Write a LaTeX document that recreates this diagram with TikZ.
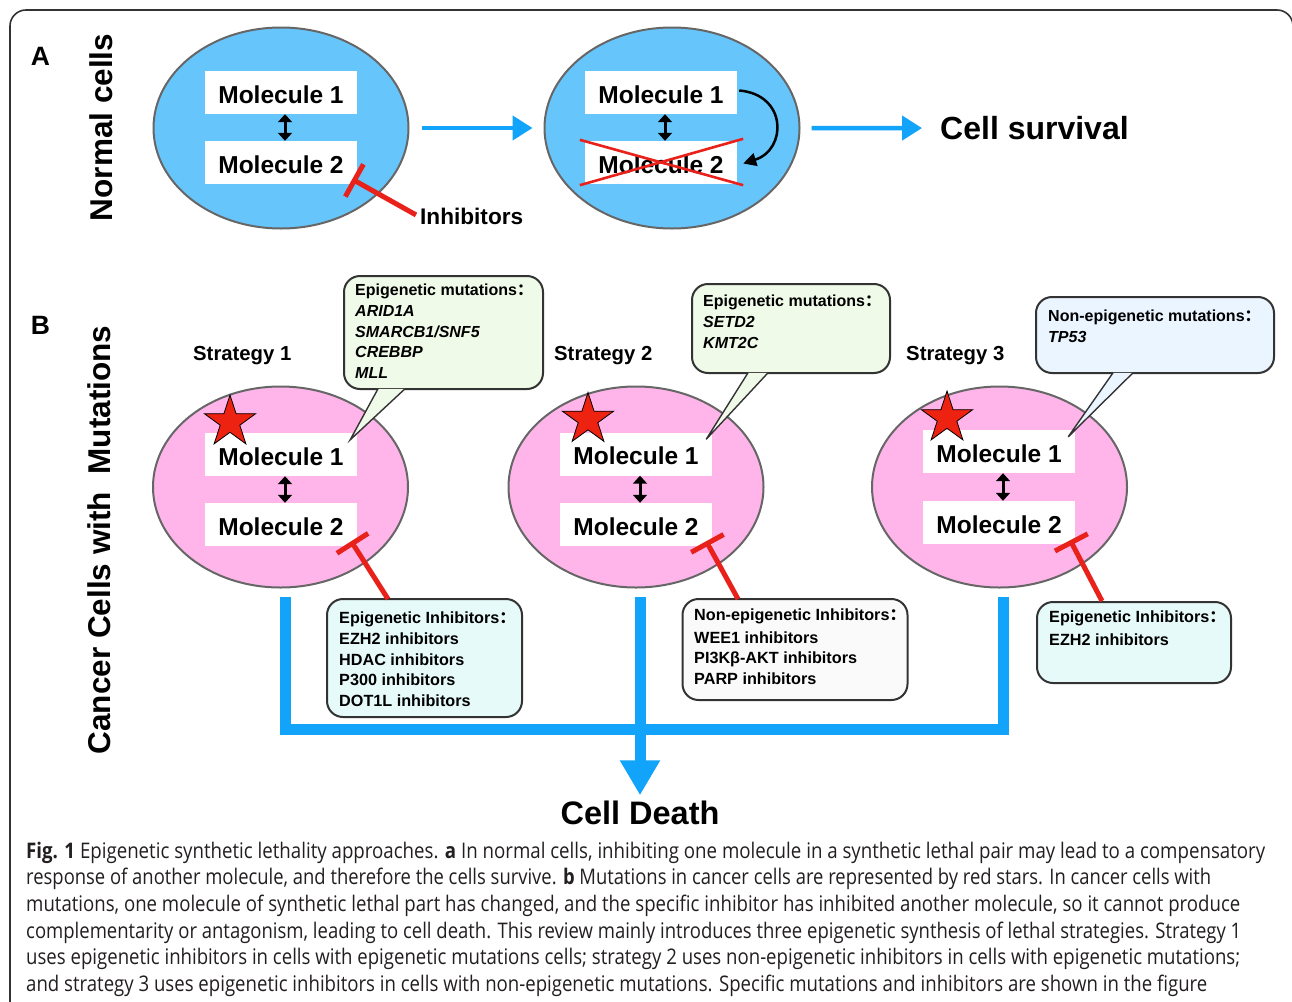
\documentclass[tikz,border=0pt]{standalone}
\usepackage{fontspec}
\usepackage{graphicx}
\setmainfont{Liberation Sans}
\newfontfamily\cjk{Noto Sans CJK SC}
\newfontfamily\capfont{Open Sans}
\usetikzlibrary{shapes.geometric,arrows.meta,calc}
\definecolor{cellblue}{HTML}{66C6FC}
\definecolor{cellpink}{HTML}{FFB5EA}
\definecolor{arrowblue}{HTML}{12A3FA}
\definecolor{inhred}{HTML}{E8221B}
\definecolor{starred}{HTML}{EE2211}
\definecolor{cellborder}{HTML}{666666}
\definecolor{boxborder}{HTML}{333333}
\definecolor{cgreen}{HTML}{F0FAE8}
\definecolor{cblue}{HTML}{EBF5FF}
\definecolor{icyan}{HTML}{E6FAFA}
\definecolor{igray}{HTML}{FAFAFA}
\definecolor{captext}{HTML}{231F20}
\newcommand\fcol{{\cjk ：}}
\newcommand\capline[2]{\resizebox{#1pt}{\height}{\capfont\fontsize{21.5}{24}\selectfont #2}}
\begin{document}
\begin{tikzpicture}[x=1pt,y=-1pt,
  cellA/.style={ellipse, draw=cellborder, line width=2, fill=cellblue, minimum width=255, minimum height=201, inner sep=0},
  cellB/.style={cellA, fill=cellpink},
  mol/.style={fill=white, minimum width=152, minimum height=43, inner sep=0, text height=21.4pt, text depth=0pt, font=\fontsize{24.5}{28}\selectfont\bfseries},
  dbl/.style={line width=3, {Triangle[width=14pt,length=8pt]}-{Triangle[width=14pt,length=8pt]}},
  inhib/.style={draw=inhred, line width=5, -{Bar[width=37pt]}},
  barrow/.style={draw=arrowblue, line width=4.5, -{Triangle[width=24pt,length=20pt]}},
  xline/.style={draw=inhred, line width=2.6},
  curv/.style={draw=black, line width=2.5, -{Triangle[width=13pt,length=13pt]}},
  starnode/.style={star, star points=5, star point ratio=2.618, minimum size=54pt, inner sep=0, fill=starred, draw=black, line width=0.8},
  callout/.style={draw=boxborder, line width=2, rounded corners=16, inner sep=0, anchor=north west},
  lbl/.style={inner sep=0, anchor=base west, font=\fontsize{20.3}{24}\selectfont\bfseries},
  ctext/.style={inner sep=0, anchor=base west, font=\fontsize{16}{19}\selectfont\bfseries},
  itext/.style={inner sep=0, anchor=base west, font=\fontsize{16.2}{19}\selectfont\bfseries},
  capl/.style={inner sep=0, anchor=base west, text=captext},
  deathline/.style={draw=arrowblue, line width=11}
]
\useasboundingbox (0,0) rectangle (1292,1001);
\fill[white] (0,0) rectangle (1292,1001);
% frame
\draw[draw=boxborder, line width=1.6, rounded corners=16] (10,1030) -- (10,10) -- (1293,10) -- (1293,1030);

% ---------- A ----------
\node[inner sep=0, font=\fontsize{26.5}{30}\selectfont\bfseries] (lA) at (40.5,56) {A};
\node[inner sep=0, anchor=base, rotate=90, font=\fontsize{31.5}{36}\selectfont\bfseries] (normal) at (112,127.5) {Normal cells};

\node[cellA] (cA1) at (281,128) {};
\node[mol] (a11) at (281,92.5) {Molecule 1};
\node[mol] (a12) at (281,162.5) {Molecule 2};
\draw[dbl] ($(a11.south)+(4,0)$) -- ($(a12.north)+(4,0)$);
\coordinate (barA) at ($(a12.south east)+(-5,-5)$);
\node[inner sep=0, anchor=base west, font=\fontsize{22.6}{26}\selectfont\bfseries] (inhA) at (420,224) {Inhibitors};
\draw[inhib] ($(inhA.west)+(-4,-1)$) -- (barA);

\node[cellA] (cA2) at (672,128) {};
\node[mol] (a21) at (661,92.5) {Molecule 1};
\node[mol] (a22) at (661,162.5) {Molecule 2};
\draw[dbl] ($(a21.south)+(4,0)$) -- ($(a22.north)+(4,0)$);
\draw[xline] ($(a22.north west)+(-5,-1)$) -- ($(a22.south east)+(6,1)$);
\draw[xline] ($(a22.south west)+(-5,1)$) -- ($(a22.north east)+(6,-2)$);
\draw[curv] ($(a21.east)+(2,-2)$) .. controls +(48,4) and +(44,-14) .. ($(a22.east)+(6,1)$);

\node[inner sep=0, anchor=base west, font=\fontsize{32}{36}\selectfont\bfseries] (surv) at (940,139.5) {Cell survival};
\draw[barrow] ($(cA1.east)+(12,0)$) -- ($(cA2.west)+(-11,0)$);
\draw[barrow] ($(cA2.east)+(11,0)$) -- ($(surv.west)+(-18,0)$);

% ---------- B ----------
\node[inner sep=0, font=\fontsize{26.5}{30}\selectfont\bfseries] (lB) at (40.5,325) {B};
\node[inner sep=0, anchor=base, rotate=90, font=\fontsize{31.5}{36}\selectfont\bfseries] (cancer) at (110,540) {Cancer Cells with\ \ Mutations};

\node[lbl] (st1) at (193,360) {Strategy 1};
\node[lbl] (st2) at (554,360) {Strategy 2};
\node[lbl] (st3) at (906,360) {Strategy 3};

% blue death lines
\coordinate (v1) at (285,597);
\coordinate (v2) at (640,597);
\coordinate (v3) at (1003,597);
\draw[deathline] (v1) -- (285,729) -- (1003,729) -- (v3);
\node[inner sep=0, anchor=base, font=\fontsize{32.5}{36}\selectfont\bfseries] (death) at (640,824) {Cell Death};
\draw[deathline, -{Triangle[width=38pt,length=35pt]}] (v2) -- ($(death.north)+(0,-5)$);

% cells
\node[cellB] (cB1) at (280.5,487) {};
\node[cellB] (cB2) at (636,487) {};
\node[cellB] (cB3) at (999.5,487) {};
\node[mol] (b11) at (281,454.5) {Molecule 1};
\node[mol] (b12) at (281,524.5) {Molecule 2};
\node[mol] (b21) at (636,454) {Molecule 1};
\node[mol] (b22) at (636,524.5) {Molecule 2};
\node[mol] (b31) at (999,451.5) {Molecule 1};
\node[mol] (b32) at (999,522.5) {Molecule 2};
\draw[dbl] ($(b11.south)+(4,0)$) -- ($(b12.north)+(4,0)$);
\draw[dbl] ($(b21.south)+(4,0)$) -- ($(b22.north)+(4,0)$);
\draw[dbl] ($(b31.south)+(4,0)$) -- ($(b32.north)+(4,0)$);
\node[starnode] (s1) at (230,422) {};
\node[starnode] (s2) at (588,419.5) {};
\node[starnode] (s3) at (947,418) {};

% inhibitor boxes
\node[callout, fill=icyan, minimum width=195, minimum height=118] (ib1) at (326,598) {};
\node[callout, fill=igray, minimum width=225, minimum height=101] (ib2) at (681.5,598) {};
\node[callout, fill=icyan, minimum width=194, minimum height=81] (ib3) at (1036,601) {};
\node[itext] (i1a) at (339,623.3) {Epigenetic Inhibitors\fcol};
\node[itext] (i1b) at (339,644.5) {EZH2 inhibitors};
\node[itext] (i1c) at (339,665.3) {HDAC inhibitors};
\node[itext] (i1d) at (339,685.8) {P300 inhibitors};
\node[itext] (i1e) at (339,706) {DOT1L inhibitors};
\node[itext] (i2a) at (694,620) {Non-epigenetic Inhibitors\fcol};
\node[itext] (i2b) at (694,643) {WEE1 inhibitors};
\node[itext] (i2c) at (694,663.5) {PI3Kβ-AKT inhibitors};
\node[itext] (i2d) at (694,684) {PARP inhibitors};
\node[itext] (i3a) at (1049,622.7) {Epigenetic Inhibitors\fcol};
\node[itext] (i3b) at (1049,645) {EZH2 inhibitors};

\coordinate (barB1) at ($(b12.south east)+(-6,-5)$);
\coordinate (barB2) at ($(b22.south east)+(-6,-5)$);
\coordinate (barB3) at ($(b32.south east)+(-5,-4)$);
\draw[inhib] ($(ib1.north west)+(62,1)$) -- (barB1);
\draw[inhib] ($(ib2.north west)+(56.5,1)$) -- (barB2);
\draw[inhib] ($(ib3.north west)+(66,0)$) -- (barB3);

% callouts
\node[callout, fill=cgreen, minimum width=199, minimum height=113] (c1) at (343,275) {};
\node[callout, fill=cgreen, minimum width=198, minimum height=89] (c2) at (691,283) {};
\node[callout, fill=cblue, minimum width=238, minimum height=76] (c3) at (1035,296) {};
\coordinate (t1) at ($(b11.north east)+(-7,7)$);
\coordinate (t2) at ($(b21.north east)+(-6,7)$);
\coordinate (t3) at ($(b31.north east)+(-7,7)$);
\draw[draw=boxborder, line width=1.4, fill=cgreen] ($(c1.south west)+(35,-1.2)$) -- (t1) -- ($(c1.south west)+(62,-1.2)$);
\draw[draw=boxborder, line width=1.4, fill=cgreen] ($(c2.south west)+(57,-1.2)$) -- (t2) -- ($(c2.south west)+(77,-1.2)$);
\draw[draw=boxborder, line width=1.4, fill=cblue] ($(c3.south west)+(78,-1.2)$) -- (t3) -- ($(c3.south west)+(98,-1.2)$);

\node[ctext] (m1a) at (355,295.7) {Epigenetic mutations\fcol};
\node[ctext] (m1b) at (355,316.3) {\itshape ARID1A};
\node[ctext] (m1c) at (355,337) {\itshape SMARCB1/SNF5};
\node[ctext] (m1d) at (355,357.6) {\itshape CREBBP};
\node[ctext] (m1e) at (355,378.3) {\itshape MLL};
\node[ctext] (m2a) at (703,306.7) {Epigenetic mutations\fcol};
\node[ctext] (m2b) at (703,327.3) {\itshape SETD2};
\node[ctext] (m2c) at (703,348) {\itshape KMT2C};
\node[ctext] (m3a) at (1048,321.5) {Non-epigenetic mutations\fcol};
\node[ctext] (m3b) at (1048,342) {\itshape TP53};

% ---------- caption ----------
\node[capl] (cap1) at (26,858) {\capline{1239}{\textbf{Fig. 1} Epigenetic synthetic lethality approaches. \textbf{a} In normal cells, inhibiting one molecule in a synthetic lethal pair may lead to a compensatory}};
\node[capl] (cap2) at (26,884.7) {\capline{1185}{response of another molecule, and therefore the cells survive. \textbf{b} Mutations in cancer cells are represented by red stars. In cancer cells with}};
\node[capl] (cap3) at (26,911.4) {\capline{1214}{mutations, one molecule of synthetic lethal part has changed, and the specific inhibitor has inhibited another molecule, so it cannot produce}};
\node[capl] (cap4) at (26,938.1) {\capline{1215}{complementarity or antagonism, leading to cell death. This review mainly introduces three epigenetic synthesis of lethal strategies. Strategy 1}};
\node[capl] (cap5) at (26,964.8) {\capline{1214}{uses epigenetic inhibitors in cells with epigenetic mutations cells; strategy 2 uses non-epigenetic inhibitors in cells with epigenetic mutations;}};
\node[capl] (cap6) at (26,991.5) {\capline{1181}{and strategy 3 uses epigenetic inhibitors in cells with non-epigenetic mutations. Specific mutations and inhibitors are shown in the figure}};
\end{tikzpicture}
\end{document}
